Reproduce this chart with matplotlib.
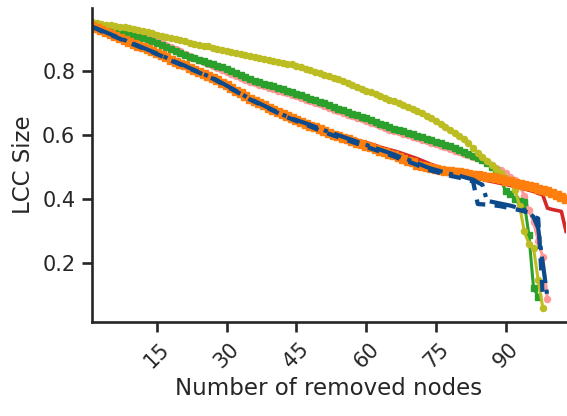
import matplotlib
matplotlib.use("Agg")
import matplotlib.pyplot as plt

# x axis: number of removed nodes
nodes = list(range(1, 104))

olive_vals = [
    0.950, 0.948, 0.945, 0.943, 0.941, 0.939, 0.937, 0.935, 0.932, 0.929,
    0.926, 0.923, 0.920, 0.916, 0.912, 0.909, 0.906, 0.902, 0.899, 0.895,
    0.891, 0.887, 0.884, 0.881, 0.878, 0.875, 0.871, 0.868, 0.865, 0.862,
    0.859, 0.856, 0.852, 0.849, 0.846, 0.842, 0.839, 0.836, 0.834, 0.831,
    0.828, 0.825, 0.822, 0.819, 0.815, 0.810, 0.806, 0.801, 0.797, 0.792,
    0.787, 0.782, 0.778, 0.774, 0.768, 0.762, 0.756, 0.750, 0.743, 0.737,
    0.732, 0.726, 0.721, 0.715, 0.710, 0.705, 0.699, 0.693, 0.687, 0.681,
    0.674, 0.667, 0.660, 0.652, 0.643, 0.634, 0.625, 0.616, 0.607, 0.598,
    0.588, 0.574, 0.559, 0.545, 0.532, 0.519, 0.506, 0.494, 0.481, 0.466,
    0.449, 0.430, 0.380, 0.300, 0.262, 0.248, 0.150, 0.062,
]

green_vals = [
    0.943, 0.940, 0.936, 0.932, 0.928, 0.924, 0.920, 0.916, 0.912, 0.908,
    0.904, 0.900, 0.896, 0.891, 0.886, 0.880, 0.874, 0.868, 0.861, 0.855,
    0.849, 0.843, 0.838, 0.833, 0.829, 0.824, 0.819, 0.814, 0.810, 0.804,
    0.798, 0.792, 0.786, 0.780, 0.774, 0.768, 0.764, 0.759, 0.755, 0.751,
    0.746, 0.742, 0.738, 0.733, 0.728, 0.723, 0.718, 0.713, 0.708, 0.703,
    0.698, 0.692, 0.686, 0.681, 0.676, 0.671, 0.666, 0.661, 0.657, 0.652,
    0.646, 0.641, 0.635, 0.630, 0.624, 0.619, 0.616, 0.612, 0.607, 0.602,
    0.598, 0.593, 0.588, 0.584, 0.579, 0.574, 0.569, 0.564, 0.558, 0.553,
    0.547, 0.541, 0.535, 0.529, 0.522, 0.511, 0.500, 0.490, 0.460, 0.425,
    0.415, 0.402, 0.395, 0.390, 0.290, 0.125, 0.097,
]

pink_vals = [
    0.941, 0.938, 0.934, 0.930, 0.927, 0.923, 0.920, 0.918, 0.915, 0.912,
    0.908, 0.905, 0.901, 0.897, 0.892, 0.887, 0.881, 0.874, 0.867, 0.860,
    0.853, 0.846, 0.839, 0.833, 0.827, 0.821, 0.815, 0.809, 0.803, 0.797,
    0.790, 0.784, 0.778, 0.772, 0.766, 0.760, 0.756, 0.751, 0.747, 0.743,
    0.738, 0.734, 0.730, 0.725, 0.720, 0.715, 0.710, 0.705, 0.700, 0.695,
    0.690, 0.684, 0.678, 0.673, 0.668, 0.663, 0.658, 0.653, 0.649, 0.644,
    0.638, 0.633, 0.627, 0.622, 0.616, 0.611, 0.608, 0.604, 0.599, 0.594,
    0.590, 0.585, 0.580, 0.576, 0.571, 0.566, 0.561, 0.556, 0.551, 0.546,
    0.541, 0.536, 0.531, 0.527, 0.521, 0.515, 0.505, 0.498, 0.490, 0.480,
    0.470, 0.460, 0.445, 0.410, 0.365, 0.330, 0.270, 0.220, 0.088,
]

red_vals = [
    0.936, 0.931, 0.924, 0.918, 0.912, 0.906, 0.900, 0.894, 0.888, 0.882,
    0.876, 0.870, 0.864, 0.858, 0.852, 0.846, 0.839, 0.832, 0.826, 0.820,
    0.814, 0.807, 0.801, 0.795, 0.788, 0.782, 0.776, 0.768, 0.760, 0.752,
    0.744, 0.736, 0.728, 0.719, 0.711, 0.704, 0.697, 0.690, 0.683, 0.676,
    0.669, 0.662, 0.656, 0.650, 0.644, 0.639, 0.633, 0.627, 0.621, 0.616,
    0.612, 0.608, 0.604, 0.600, 0.596, 0.592, 0.588, 0.584, 0.580, 0.576,
    0.572, 0.567, 0.562, 0.558, 0.554, 0.550, 0.546, 0.541, 0.536, 0.531,
    0.526, 0.520, 0.514, 0.508, 0.503, 0.498, 0.494, 0.490, 0.486, 0.482,
    0.478, 0.474, 0.470, 0.466, 0.462, 0.458, 0.455, 0.452, 0.449, 0.446,
    0.443, 0.440, 0.436, 0.432, 0.428, 0.424, 0.418, 0.413, 0.372, 0.368,
    0.365, 0.362, 0.300,
]

orange_vals = [
    0.938, 0.933, 0.926, 0.920, 0.914, 0.908, 0.902, 0.896, 0.890, 0.884,
    0.878, 0.872, 0.866, 0.860, 0.854, 0.848, 0.841, 0.834, 0.828, 0.822,
    0.816, 0.809, 0.803, 0.797, 0.790, 0.784, 0.778, 0.770, 0.762, 0.754,
    0.746, 0.738, 0.730, 0.721, 0.713, 0.706, 0.699, 0.692, 0.685, 0.678,
    0.671, 0.664, 0.658, 0.652, 0.646, 0.641, 0.635, 0.629, 0.623, 0.617,
    0.611, 0.606, 0.601, 0.596, 0.591, 0.586, 0.581, 0.576, 0.571, 0.566,
    0.561, 0.556, 0.551, 0.546, 0.541, 0.536, 0.530, 0.525, 0.520, 0.515,
    0.507, 0.504, 0.500, 0.497, 0.494, 0.492, 0.489, 0.487, 0.485, 0.483,
    0.480, 0.478, 0.476, 0.474, 0.472, 0.470, 0.468, 0.465, 0.462, 0.458,
    0.455, 0.451, 0.447, 0.444, 0.440, 0.437, 0.433, 0.429, 0.424, 0.418,
    0.412, 0.406, 0.400,
]

blue_dash_vals = [
    0.935, 0.930, 0.923, 0.917, 0.911, 0.905, 0.899, 0.893, 0.887, 0.881,
    0.875, 0.869, 0.863, 0.857, 0.851, 0.845, 0.838, 0.831, 0.825, 0.819,
    0.813, 0.806, 0.800, 0.794, 0.787, 0.781, 0.775, 0.767, 0.759, 0.751,
    0.743, 0.735, 0.727, 0.718, 0.710, 0.703, 0.696, 0.689, 0.682, 0.675,
    0.668, 0.661, 0.655, 0.649, 0.643, 0.638, 0.632, 0.626, 0.620, 0.614,
    0.608, 0.603, 0.598, 0.593, 0.588, 0.583, 0.578, 0.573, 0.568, 0.563,
    0.558, 0.553, 0.548, 0.543, 0.538, 0.533, 0.527, 0.522, 0.517, 0.512,
    0.506, 0.500, 0.494, 0.489, 0.485, 0.481, 0.477, 0.473, 0.470, 0.467,
    0.463, 0.459, 0.455, 0.385, 0.384, 0.383, 0.382, 0.380, 0.378, 0.375,
    0.372, 0.369, 0.366, 0.362, 0.358, 0.345, 0.340, 0.100,
]

blue_dashdot_vals = [
    0.936, 0.931, 0.925, 0.919, 0.913, 0.907, 0.901, 0.895, 0.889, 0.883,
    0.877, 0.871, 0.865, 0.859, 0.853, 0.847, 0.840, 0.833, 0.827, 0.821,
    0.815, 0.808, 0.802, 0.796, 0.789, 0.783, 0.777, 0.769, 0.761, 0.753,
    0.745, 0.737, 0.729, 0.720, 0.712, 0.705, 0.698, 0.691, 0.684, 0.677,
    0.670, 0.663, 0.657, 0.651, 0.646, 0.641, 0.636, 0.631, 0.625, 0.620,
    0.614, 0.609, 0.604, 0.599, 0.594, 0.589, 0.584, 0.579, 0.574, 0.569,
    0.564, 0.559, 0.554, 0.549, 0.544, 0.539, 0.533, 0.528, 0.523, 0.518,
    0.512, 0.506, 0.500, 0.495, 0.491, 0.487, 0.483, 0.479, 0.476, 0.473,
    0.469, 0.465, 0.461, 0.452, 0.445, 0.395, 0.392, 0.389, 0.386, 0.383,
    0.380, 0.376, 0.372, 0.366, 0.360, 0.345, 0.310, 0.200, 0.095,
]

xticks = [15, 30, 45, 60, 75, 90]
yticks = [0.2, 0.4, 0.6, 0.8]

dark = "#262626"
plt.rcParams["font.family"] = "DejaVu Sans"
plt.rcParams["text.color"] = dark
plt.rcParams["axes.labelcolor"] = dark

fig = plt.figure(figsize=(5.67, 4.16), dpi=100)
ax = fig.add_axes([0.1623, 0.226, 0.836, 0.755])


def upto(vals):
    return nodes[:len(vals)]


ax.plot(upto(pink_vals), pink_vals, color="#ff9896", marker="o", ms=4.4, lw=2.2)
ax.plot(upto(green_vals), green_vals, color="#2ca02c", marker="s", ms=4.8, lw=2.2)
ax.plot(upto(olive_vals), olive_vals, color="#bcbd22", marker="o", ms=4.4, lw=2.2)
ax.plot(upto(red_vals), red_vals, color="#d62728", lw=2.6)
ax.plot(upto(orange_vals), orange_vals, color="#ff7f0e", marker="s", ms=5.8, lw=3)
ax.plot(upto(blue_dash_vals), blue_dash_vals, color="#0c4a8c", lw=3.1,
        linestyle="--", dashes=(2.8, 2.2))
ax.plot(upto(blue_dashdot_vals), blue_dashdot_vals, color="#0c4a8c", lw=3.0,
        linestyle="-.")

ax.set_xlim(1, 103)
ax.set_ylim(0.018, 0.995)
ax.set_xticks(xticks)
ax.set_yticks(yticks)
ax.set_xticklabels([str(t) for t in xticks], rotation=45)

for side in ["top", "right"]:
    ax.spines[side].set_visible(False)
for side in ["left", "bottom"]:
    ax.spines[side].set_linewidth(1.9)
    ax.spines[side].set_color(dark)
ax.tick_params(axis="both", length=7, width=1.9, color=dark,
               labelsize=15, labelcolor=dark, pad=5)

ax.set_xlabel("Number of removed nodes", fontsize=16.5, labelpad=4)
ax.set_ylabel("LCC Size", fontsize=16.5, labelpad=5)

fig.savefig("out.png", dpi=100)
